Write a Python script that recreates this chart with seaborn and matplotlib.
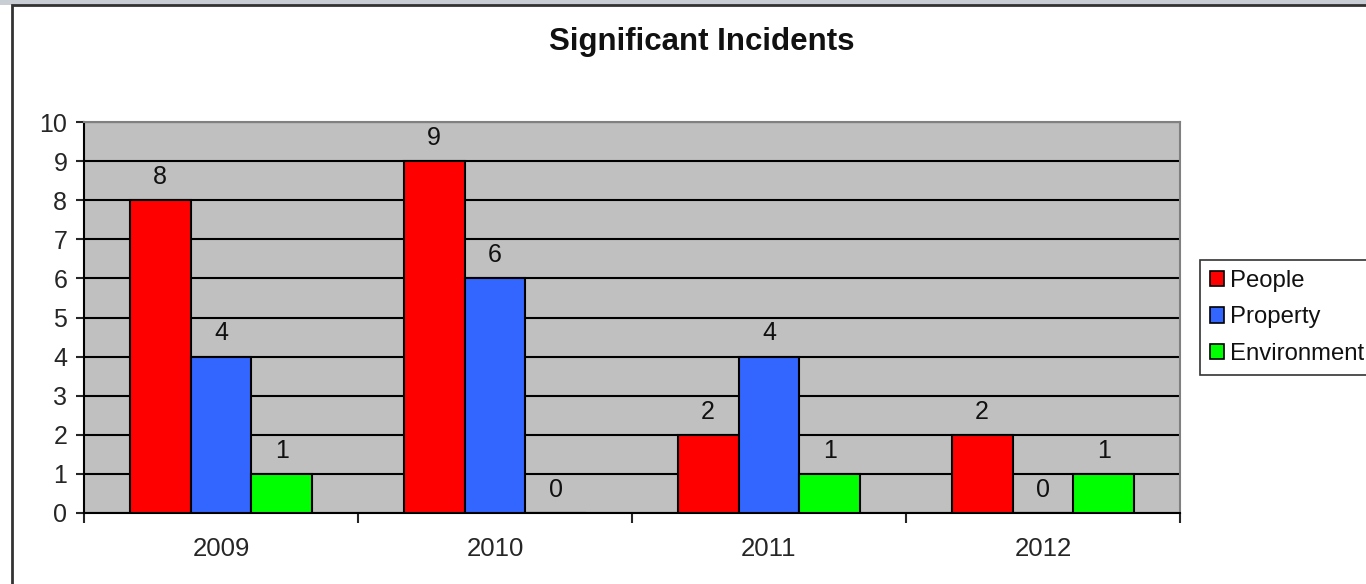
import pandas as pd
import matplotlib.pyplot as plt
import matplotlib.patches as mpatches
import seaborn as sns

years = ["2009", "2010", "2011", "2012"]
people = [8, 9, 2, 2]
property_ = [4, 6, 4, 0]
environment = [1, 0, 1, 1]
series_names = ["People", "Property", "Environment"]
colors = ["#FF0000", "#3366FF", "#00FF00"]

df = pd.DataFrame({
    "Year": years * 3,
    "Type": [s for s in series_names for _ in years],
    "Count": people + property_ + environment,
})

sns.set_style("white")
plt.rcParams["font.family"] = ["Liberation Sans", "DejaVu Sans"]
plt.rcParams["text.color"] = "#111111"

W, H = 1366, 584
fig = plt.figure(figsize=(W / 100, H / 100), dpi=100)
fig.patch.set_facecolor("white")

# window chrome strip and outer chart border
fig.add_artist(mpatches.Rectangle((0, 1 - 5 / H), 1, 5 / H, transform=fig.transFigure,
                                  facecolor="#c9ced4", edgecolor="none"))
fig.add_artist(mpatches.Rectangle((12 / W, -0.1), 1.2, 1 - 5 / H + 0.1, transform=fig.transFigure,
                                  facecolor="none", edgecolor="#333333", linewidth=2))

ax = fig.add_axes([84 / W, 1 - 513 / H, 1096 / W, 391 / H])
ax.set_facecolor("#C0C0C0")

sns.barplot(data=df, x="Year", y="Count", hue="Type", hue_order=series_names,
            palette=colors, width=0.667, gap=0, edgecolor="black", linewidth=1.5,
            saturation=1, ax=ax, legend=False, zorder=3)

for cont in ax.containers:
    ax.bar_label(cont, padding=8, fontsize=18)

ax.set_ylim(0, 10)
ax.set_xlim(-0.5, 3.5)
ax.set_yticks(range(0, 11))
ax.tick_params(axis="y", labelsize=18, length=6, width=1.5, direction="out", left=True, pad=6)
ax.set_xticks([-0.5, 0.5, 1.5, 2.5, 3.5])
ax.set_xticklabels([])
ax.tick_params(axis="x", which="major", length=7, width=1.5, direction="out", bottom=True)
ax.set_xticks(range(4), minor=True)
ax.set_xticklabels(years, minor=True)
ax.tick_params(axis="x", which="minor", length=0, labelsize=18.5, pad=17)
ax.set_xlabel("")
ax.set_ylabel("")

ax.grid(axis="y", color="black", linewidth=1.5, zorder=0)
ax.set_axisbelow(True)
for side in ["left", "bottom"]:
    ax.spines[side].set_color("black")
    ax.spines[side].set_linewidth(1.5)
for side in ["top", "right"]:
    ax.spines[side].set_color("#808080")
    ax.spines[side].set_linewidth(1.5)

fig.text(702 / W, 1 - 42 / H, "Significant Incidents", ha="center", va="center",
         fontsize=22.5, fontweight="bold")

handles = [mpatches.Patch(facecolor=c, edgecolor="black", linewidth=1.2) for c in colors]
leg = fig.legend(handles, series_names, loc="upper left",
                 bbox_to_anchor=(1200 / W, 1 - 260 / H), bbox_transform=fig.transFigure,
                 fontsize=17.2, frameon=True, fancybox=False, handlelength=0.6, handleheight=0.6,
                 handletextpad=0.25, labelspacing=0.62, borderpad=0.4, borderaxespad=0)
leg.get_frame().set_edgecolor("black")
leg.get_frame().set_linewidth(1.2)

fig.savefig("out.png", dpi=100)
